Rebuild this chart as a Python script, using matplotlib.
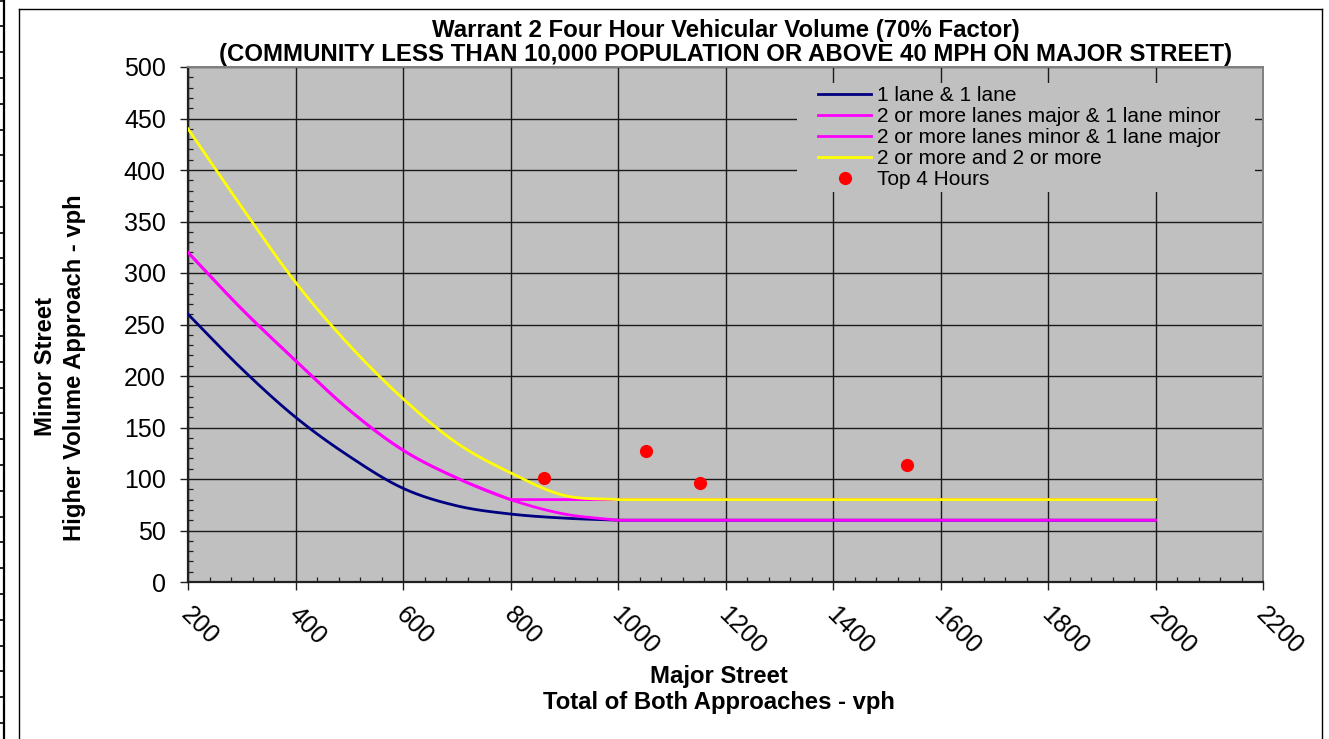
import numpy as np
import matplotlib
matplotlib.use("Agg")
import matplotlib.pyplot as plt
from matplotlib.lines import Line2D
from matplotlib.patches import Rectangle
from matplotlib.transforms import ScaledTranslation

plt.rcParams['font.family'] = ['Liberation Sans', 'DejaVu Sans']

# Warrant curves (major street total vph -> minor street vph)
one_one_x = [200, 300, 400, 500, 600, 700, 800, 900, 1000, 2000]
one_one_y = [260, 207, 160, 122, 91, 74, 66, 62, 60, 60]

two_major_x = [200, 300, 400, 500, 600, 700, 800, 900, 1000, 2000]
two_major_y = [320, 265, 215, 167, 128, 101, 80, 66, 60, 60]

two_minor_x = [200, 300, 400, 500, 600, 700, 800, 2000]
two_minor_y = [320, 265, 215, 167, 128, 101, 80, 80]

two_two_x = [200, 300, 400, 500, 600, 700, 800, 900, 1000, 2000]
two_two_y = [440, 364, 291, 230, 178, 135, 106, 84, 80, 80]

# Top four hours of counted traffic
hours_major = [862, 1053, 1153, 1538]
hours_minor = [101, 127, 96, 114]

labels = ["1 lane & 1 lane",
          "2 or more lanes major & 1 lane minor",
          "2 or more lanes minor & 1 lane major",
          "2 or more and 2 or more",
          "Top 4 Hours"]

x_ticks = list(range(200, 2201, 200))
y_ticks = list(range(0, 501, 50))


def smooth(xs, ys, n=60):
    """Cubic Hermite path with centred tangents; flat runs stay flat."""
    x = np.asarray(xs, float)
    y = np.asarray(ys, float)
    h = np.diff(x)
    d = np.diff(y) / h
    npts = len(x)
    m_out = np.zeros(npts)   # tangent leaving node k
    m_in = np.zeros(npts)    # tangent arriving at node k
    m_out[0] = d[0]
    m_in[-1] = d[-1]
    for k in range(1, npts - 1):
        if d[k] == 0:
            m_in[k], m_out[k] = d[k - 1], 0.0
        elif d[k - 1] == 0:
            m_in[k], m_out[k] = 0.0, d[k]
        else:
            c = (y[k + 1] - y[k - 1]) / (x[k + 1] - x[k - 1])
            m_in[k] = m_out[k] = c
    px, py = [], []
    for k in range(npts - 1):
        t = np.linspace(0, 1, n, endpoint=(k == npts - 2))
        h00 = 2 * t**3 - 3 * t**2 + 1
        h10 = t**3 - 2 * t**2 + t
        h01 = -2 * t**3 + 3 * t**2
        h11 = t**3 - t**2
        px.append(x[k] + t * h[k])
        py.append(h00 * y[k] + h10 * h[k] * m_out[k] + h01 * y[k + 1]
                  + h11 * h[k] * m_in[k + 1])
    return np.concatenate(px), np.concatenate(py)


W, H = 1329, 739
fig = plt.figure(figsize=(W / 100, H / 100), dpi=100)
fig.patch.set_facecolor('white')


def fx(p):
    return p / W


def fy(p):
    return 1 - p / H


ax = fig.add_axes([fx(188), fy(582), fx(1263) - fx(188), fy(67) - fy(582)])
ax.set_facecolor('#C0C0C0')
ax.set_xlim(200, 2200)
ax.set_ylim(0, 500)
ax.set_axisbelow(True)

ax.set_xticks(x_ticks)
ax.set_yticks(y_ticks)
ax.set_xticks(np.arange(200, 2201, 40), minor=True)
ax.set_yticks(np.arange(0, 501, 10), minor=True)
ax.grid(True, which='major', color='#1a1a1a', linewidth=1.0)

ax.tick_params(which='major', direction='out', length=6, width=1.0, color='#202020',
               labelsize=18)
ax.tick_params(which='minor', direction='in', length=3.6, width=0.9, color='#202020')
ax.tick_params(axis='y', which='major', pad=10)
ax.tick_params(axis='x', which='major', pad=15)

ax.set_xticklabels([str(v) for v in x_ticks], rotation=-45, ha='left', va='center',
                   rotation_mode='anchor')
for lab in ax.get_xticklabels():
    lab.set_transform(lab.get_transform() + ScaledTranslation(-0.03, 0, fig.dpi_scale_trans))

for side in ('left', 'bottom'):
    ax.spines[side].set_color('#202020')
    ax.spines[side].set_linewidth(1.6)
for side in ('top', 'right'):
    ax.spines[side].set_color('#808080')
    ax.spines[side].set_linewidth(1.4)

lw = 2.0
sx, sy = smooth(one_one_x, one_one_y)
ax.plot(sx, sy, color='#000080', lw=lw, label=labels[0], zorder=3)
sx, sy = smooth(two_major_x, two_major_y)
ax.plot(sx, sy, color='#FF00FF', lw=lw, label=labels[1], zorder=3)
sx, sy = smooth(two_minor_x, two_minor_y)
ax.plot(sx, sy, color='#FF00FF', lw=lw, label=labels[2], zorder=3)
sx, sy = smooth(two_two_x, two_two_y)
ax.plot(sx, sy, color='#FFFF00', lw=lw, label=labels[3], zorder=3)
ax.plot(hours_major, hours_minor, linestyle='none', marker='o', markersize=9.5,
        color='#FF0000', markeredgewidth=0, label=labels[4], zorder=4)

# legend panel sits on top of the grid
ax.add_patch(Rectangle((fx(797), fy(192)), fx(1255) - fx(797), fy(83) - fy(192),
                       transform=fig.transFigure, facecolor='#C0C0C0', edgecolor='none',
                       zorder=1.5))
leg = ax.legend(loc='upper left', bbox_to_anchor=(fx(818), fy(86)),
                bbox_transform=fig.transFigure, frameon=False, fontsize=15,
                handlelength=2.55, handletextpad=0.3, labelspacing=0.1,
                borderpad=0, borderaxespad=0)
leg.set_zorder(5)

# titles
cx = (188 + 1263) / 2
fig.text(fx(cx), fy(30), "Warrant 2 Four Hour Vehicular Volume (70% Factor)",
         ha='center', va='center', fontsize=17.3, fontweight='bold')
fig.text(fx(cx), fy(55),
         "(COMMUNITY LESS THAN 10,000 POPULATION OR ABOVE 40 MPH ON MAJOR STREET)",
         ha='center', va='center', fontsize=17.3, fontweight='bold')

fig.text(fx(719), fy(676), "Major Street", ha='center', va='center',
         fontsize=17.2, fontweight='bold')
fig.text(fx(719), fy(703), "Total of Both Approaches - vph", ha='center', va='center',
         fontsize=17.2, fontweight='bold')
fig.text(fx(45), fy(367), "Minor Street", ha='center', va='center', rotation=90,
         fontsize=17.2, fontweight='bold')
fig.text(fx(75), fy(368), "Higher Volume Approach - vph", ha='center', va='center',
         rotation=90, fontsize=17.2, fontweight='bold')

# page frame and ruler along the left edge
frame_kw = dict(transform=fig.transFigure, color='black', linewidth=1.0)
fig.add_artist(Line2D([fx(18.5), fx(18.5)], [fy(9.3), fy(739)], **frame_kw))
fig.add_artist(Line2D([fx(18.5), fx(1321.5)], [fy(9.3), fy(9.3)], **frame_kw))
fig.add_artist(Line2D([fx(1321.5), fx(1321.5)], [fy(9.3), fy(739)], **frame_kw))
fig.add_artist(Line2D([fx(3.5), fx(3.5)], [fy(0), fy(739)], transform=fig.transFigure,
                      color='black', linewidth=1.6))
for k in range(29):
    yy = 0.5 + 25.8 * k
    fig.add_artist(Line2D([fx(0), fx(4)], [fy(yy), fy(yy)], transform=fig.transFigure,
                          color='black', linewidth=1.2))

fig.savefig("out.png", dpi=100, facecolor='white')
